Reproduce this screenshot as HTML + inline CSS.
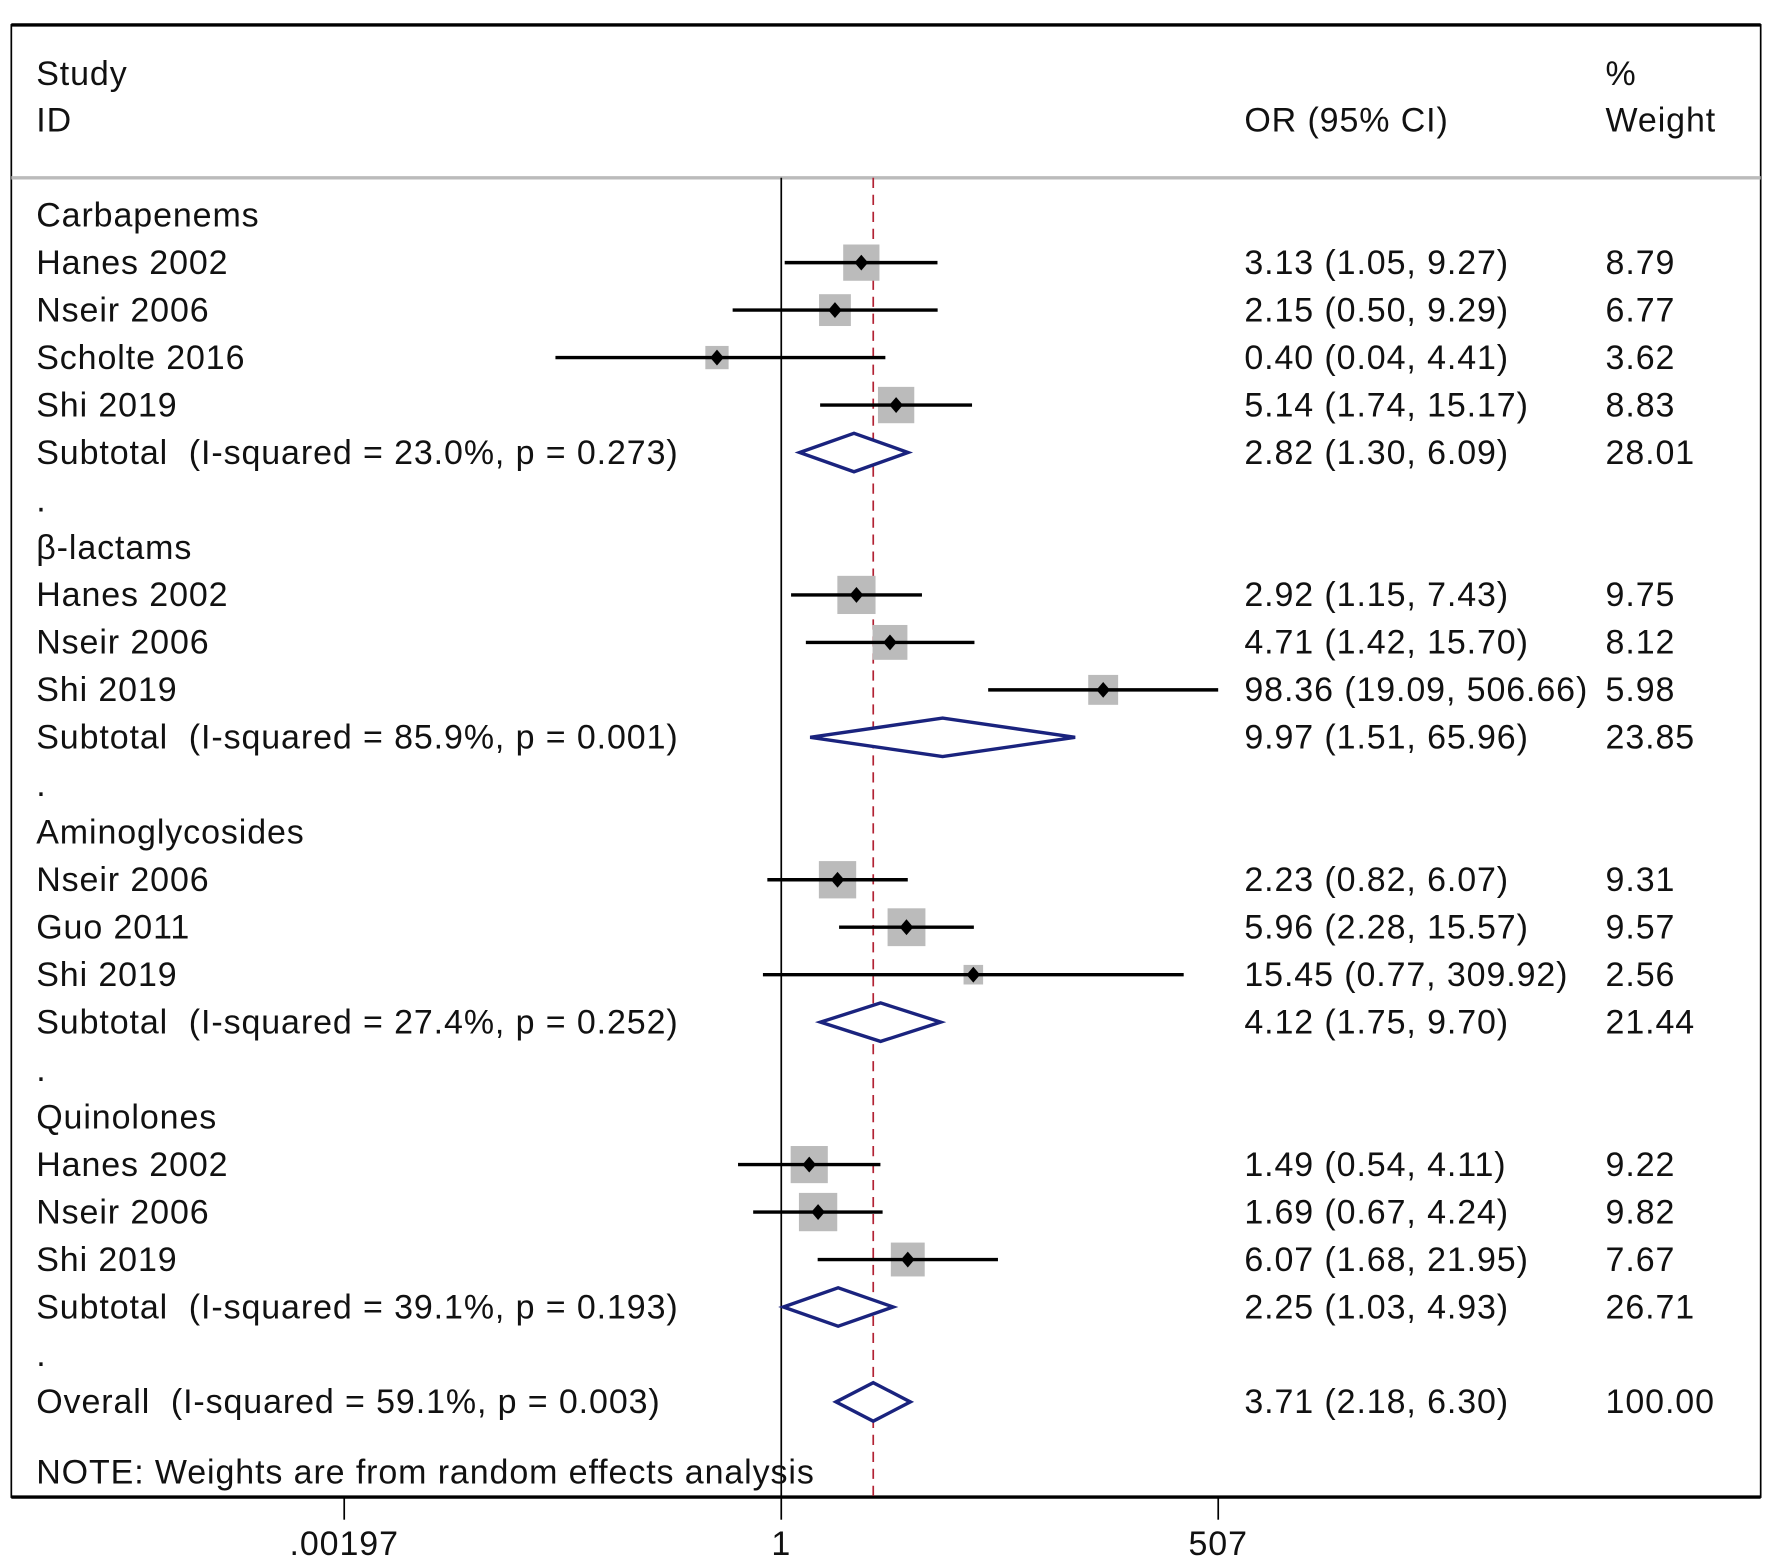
<!DOCTYPE html>
<html><head><meta charset="utf-8"><style>
html,body{margin:0;padding:0;background:#fff;}
svg{display:block;}
text{font-family:"Liberation Sans",Arial,sans-serif;font-size:30px;letter-spacing:0.8px;fill:#111;white-space:pre;}
</style></head><body>
<svg id="chart" width="1772" height="1565" viewBox="0 0 1565 1382" preserveAspectRatio="none" xmlns="http://www.w3.org/2000/svg">
<rect x="10" y="22" width="1545" height="1300" fill="none" stroke="#000" stroke-width="1.5"/>
<line x1="10" y1="22" x2="1555" y2="22" stroke="#000" stroke-width="3"/>
<line x1="10" y1="157" x2="1555" y2="157" stroke="#bbb" stroke-width="3"/>
<line x1="10" y1="1322" x2="1555" y2="1322" stroke="#000" stroke-width="3"/>
<text x="32" y="75">Study</text>
<text x="32" y="116">ID</text>
<text x="1099" y="116">OR (95% CI)</text>
<text x="1418" y="75">%</text>
<text x="1418" y="116">Weight</text>
<g id="marks"></g>
<text x="32" y="1310">NOTE: Weights are from random effects analysis</text>
</svg>
<script>
const labels = ["Carbapenems","Hanes 2002","Nseir 2006","Scholte 2016","Shi 2019","Subtotal  (I-squared = 23.0%, p = 0.273)",".",
"β-lactams","Hanes 2002","Nseir 2006","Shi 2019","Subtotal  (I-squared = 85.9%, p = 0.001)",".",
"Aminoglycosides","Nseir 2006","Guo 2011","Shi 2019","Subtotal  (I-squared = 27.4%, p = 0.252)",".",
"Quinolones","Hanes 2002","Nseir 2006","Shi 2019","Subtotal  (I-squared = 39.1%, p = 0.193)",".",
"Overall  (I-squared = 59.1%, p = 0.003)"];
const kinds = ["h","s","s","s","s","d","b","h","s","s","s","d","b","h","s","s","s","d","b","h","s","s","s","d","b","d"];
const est = [null,3.13,2.15,0.40,5.14,2.82,null,null,2.92,4.71,98.36,9.97,null,null,2.23,5.96,15.45,4.12,null,null,1.49,1.69,6.07,2.25,null,3.71];
const lo = [null,1.05,0.50,0.04,1.74,1.30,null,null,1.15,1.42,19.09,1.51,null,null,0.82,2.28,0.77,1.75,null,null,0.54,0.67,1.68,1.03,null,2.18];
const hi = [null,9.27,9.29,4.41,15.17,6.09,null,null,7.43,15.70,506.66,65.96,null,null,6.07,15.57,309.92,9.70,null,null,4.11,4.24,21.95,4.93,null,6.30];
const ciText = ["","3.13 (1.05, 9.27)","2.15 (0.50, 9.29)","0.40 (0.04, 4.41)","5.14 (1.74, 15.17)","2.82 (1.30, 6.09)","","","2.92 (1.15, 7.43)","4.71 (1.42, 15.70)","98.36 (19.09, 506.66)","9.97 (1.51, 65.96)","","","2.23 (0.82, 6.07)","5.96 (2.28, 15.57)","15.45 (0.77, 309.92)","4.12 (1.75, 9.70)","","","1.49 (0.54, 4.11)","1.69 (0.67, 4.24)","6.07 (1.68, 21.95)","2.25 (1.03, 4.93)","","3.71 (2.18, 6.30)"];
const weights = [null,8.79,6.77,3.62,8.83,28.01,null,null,9.75,8.12,5.98,23.85,null,null,9.31,9.57,2.56,21.44,null,null,9.22,9.82,7.67,26.71,null,100.00];
const overall = 3.71;
const xTicks = [0.00197,1,507];
const xTickLabels = [".00197","1","507"];

const NS="http://www.w3.org/2000/svg";
const g=document.getElementById('marks');
function xs(v){return 690+61.96*Math.log(v);}
function ys(i){return 190+41.92*i;}
function mk(t,a,p){const e=document.createElementNS(NS,t);for(const k in a)e.setAttribute(k,a[k]);(p||g).appendChild(e);return e;}

let l=mk('line',{x1:xs(1),y1:157,x2:xs(1),y2:1322,stroke:'#000','stroke-width':1.5});


l=mk('line',{x1:xs(overall),y1:157,x2:xs(overall),y2:1322,stroke:'#b22234','stroke-width':1.5,'stroke-dasharray':'9,6'});



labels.forEach((lab,i)=>{
  const y=ys(i);
  const t=mk('text',{x:32,y:y+10});t.textContent=lab;
  
  
  if(kinds[i]==='s'){
    const c=xs(est[i]),s=10.8*Math.sqrt(weights[i]);
    const r=mk('rect',{x:c-s/2,y:y-s/2,width:s,height:s,fill:'#bbb'});
    
    
    const ln=mk('line',{x1:xs(lo[i]),y1:y,x2:xs(hi[i]),y2:y,stroke:'#000','stroke-width':3});
    
    
    const d=mk('polygon',{points:`${c},${y-7} ${c+6},${y} ${c},${y+7} ${c-6},${y}`,fill:'#000'});
    
    
  } else if(kinds[i]==='d'){
    const a=xs(lo[i]),b=xs(hi[i]),c=xs(est[i]);
    const p=mk('polygon',{points:`${a},${y} ${c},${y-17} ${b},${y} ${c},${y+17}`,fill:'#fff',stroke:'#1a237e','stroke-width':3});
    
    
  }
  if(ciText[i]){
    const t2=mk('text',{x:1099,y:y+10});t2.textContent=ciText[i];
    
    
    const t3=mk('text',{x:1418,y:y+10});t3.textContent=weights[i].toFixed(2);
    
    
  }
});
xTicks.forEach((v,i)=>{
  const tk=mk('line',{x1:xs(v),y1:1322,x2:xs(v),y2:1342,stroke:'#000','stroke-width':1.5});
  
  
  const tl=mk('text',{x:xs(v),y:1373,'text-anchor':'middle'});tl.textContent=xTickLabels[i];
  
  
});
</script>
</body></html>
